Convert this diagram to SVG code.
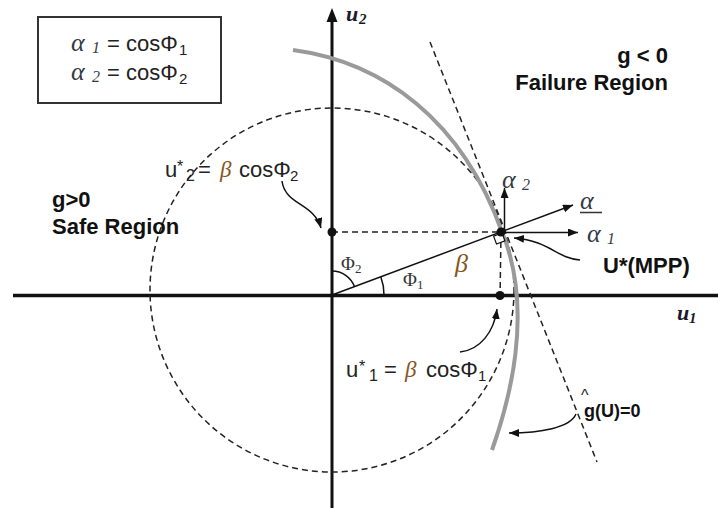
<svg xmlns="http://www.w3.org/2000/svg" width="718" height="508" viewBox="0 0 718 508">
<style>
.sans{font-family:"Liberation Sans",Arial,sans-serif;fill:#222}
.bold{font-family:"Liberation Sans",Arial,sans-serif;font-weight:bold;fill:#111}
.serif{font-family:"Liberation Serif","Times New Roman",serif;fill:#333}
.greek{font-family:"Liberation Serif","Times New Roman",serif;font-style:italic;fill:#333a45}
.beta{font-family:"Liberation Serif","Times New Roman",serif;font-style:italic;fill:#85561c}
.axlab{font-family:"Liberation Serif","Times New Roman",serif;font-style:italic;font-weight:bold;fill:#1a1a2a}
.dash{fill:none;stroke:#222;stroke-width:1.5;stroke-dasharray:6 4}
.thin{fill:none;stroke:#111;stroke-width:1.5}
.dot{fill:#111}
</style>
<defs>
<marker id="ah" markerUnits="userSpaceOnUse" markerWidth="11" markerHeight="9" refX="10" refY="4" orient="auto">
<path d="M0,0 L10,4 L0,8 z" fill="#111"/>
</marker>
</defs>
<rect width="718" height="508" fill="#fff"/>

<g id="legend">
<rect x="38" y="17" width="183" height="86" fill="#fff" stroke="#333" stroke-width="2"/>
<text class="greek" x="71" y="51" font-size="26">α</text>
<text class="greek" x="92" y="53" font-size="16">1</text>
<text class="sans" x="107" y="51" font-size="22">= cosΦ</text>
<text class="sans" x="179" y="55" font-size="15">1</text>
<text class="greek" x="71" y="80" font-size="26">α</text>
<text class="greek" x="92" y="82" font-size="16">2</text>
<text class="sans" x="107" y="80" font-size="22">= cosΦ</text>
<text class="sans" x="179" y="84" font-size="15">2</text>
</g>

<g id="axes">
<line x1="13" y1="295.5" x2="718" y2="295.5" stroke="#111" stroke-width="3.5"/>
<line x1="332" y1="508" x2="332" y2="20" stroke="#111" stroke-width="3"/>
<polygon points="332,8 326.5,22 337.5,22" fill="#111"/>
<text class="axlab" x="346" y="21" font-size="22">u</text>
<text class="axlab" x="359" y="24" font-size="15">2</text>
<text class="axlab" x="677" y="320" font-size="22">u</text>
<text class="axlab" x="689" y="323" font-size="15">1</text>
</g>

<g id="beta-circle">
<circle cx="332" cy="290" r="182" class="dash"/>
</g>

<g id="limit-state">
<path d="M293,50 C383,62 462,120 502,232 C535,312 508,405 492,450" fill="none" stroke="#9a9a9a" stroke-width="4"/>
</g>

<g id="tangent">
<line x1="430" y1="42" x2="597" y2="462" class="dash"/>
</g>

<g id="projections">
<line x1="332" y1="232" x2="501" y2="232" class="dash"/>
<line x1="501" y1="232" x2="500" y2="300" class="dash"/>
</g>

<g id="angles">
<path d="M332,271 A24,24 0 0 1 354.5,286.6" class="thin" stroke-width="1.2"/>
<path d="M380.8,276.8 A52,52 0 0 1 384,295" class="thin" stroke-width="1.2"/>
<text class="serif" x="341" y="270" font-size="19">Φ</text>
<text class="serif" x="355" y="273" font-size="13">2</text>
<text class="serif" x="403" y="286" font-size="19">Φ</text>
<text class="serif" x="417" y="289" font-size="13">1</text>
</g>

<g id="mpp">
<polygon points="502,233 493.6,236.1 496.5,244 504.9,240.9" fill="#fff" stroke="#111" stroke-width="1.2"/>
<circle cx="501" cy="232" r="4.5" class="dot"/>
<text class="bold" x="603" y="273" font-size="22">U*(MPP)</text>
</g>

<g id="u2-point">
<circle cx="332" cy="232" r="4.5" class="dot"/>
<text class="sans" x="165" y="177" font-size="22">u</text>
<text class="sans" x="177" y="172" font-size="16">*</text>
<text class="sans" x="186" y="181" font-size="16">2</text>
<text class="sans" x="198" y="177" font-size="22">=</text>
<text class="beta" x="220" y="177" font-size="23">β</text>
<text class="sans" x="239" y="177" font-size="22">cosΦ</text>
<text class="sans" x="290" y="181" font-size="15">2</text>
</g>

<g id="u1-point">
<circle cx="500" cy="295.5" r="4.5" class="dot"/>
<text class="sans" x="346" y="377" font-size="22">u</text>
<text class="sans" x="359" y="372" font-size="16">*</text>
<text class="sans" x="369" y="381" font-size="16">1</text>
<text class="sans" x="384" y="377" font-size="22">=</text>
<text class="beta" x="405" y="377" font-size="23">β</text>
<text class="sans" x="426" y="377" font-size="22">cosΦ</text>
<text class="sans" x="478" y="381" font-size="15">1</text>
</g>

<g id="beta-label">
<text class="beta" x="455" y="272" font-size="26">β</text>
</g>

<g id="regions">
<text class="bold" x="668" y="63" font-size="22" text-anchor="end">g &lt; 0</text>
<text class="bold" x="668" y="90" font-size="22" text-anchor="end">Failure Region</text>
<text class="bold" x="52" y="207" font-size="22">g&gt;0</text>
<text class="bold" x="52" y="234" font-size="22">Safe Region</text>
</g>

<g id="g-label">
<text class="sans" x="581" y="401" font-size="16">^</text>
<text class="bold" x="584" y="417" font-size="18">g(U)=0</text>
</g>

<g id="vector-labels">
<text class="greek" x="502" y="188" font-size="26">α</text>
<text class="greek" x="522" y="190" font-size="16">2</text>
<text class="greek" x="580" y="209" font-size="26">α</text>
<line x1="580" y1="212.5" x2="602" y2="212.5" stroke="#333" stroke-width="1.5"/>
<text class="greek" x="587" y="242" font-size="26">α</text>
<text class="greek" x="607" y="244" font-size="16">1</text>
</g>

<g id="connectors">
<line x1="332" y1="295" x2="573" y2="205" class="thin" marker-end="url(#ah)"/>
<line x1="501" y1="232.5" x2="578" y2="232.5" class="thin" marker-end="url(#ah)"/>
<line x1="504.5" y1="232" x2="504.5" y2="188" class="thin" marker-end="url(#ah)"/>
<path d="M282,181 C285,205 314,203 321,228" class="thin" marker-end="url(#ah)"/>
<path d="M460,352 C480,350 494,332 497,309" class="thin" marker-end="url(#ah)"/>
<path d="M580,260 C556,258 550,241 514,238" class="thin" marker-end="url(#ah)"/>
<path d="M576,414 C570,428 540,433 509,433" class="thin" marker-end="url(#ah)"/>
</g>
</svg>
